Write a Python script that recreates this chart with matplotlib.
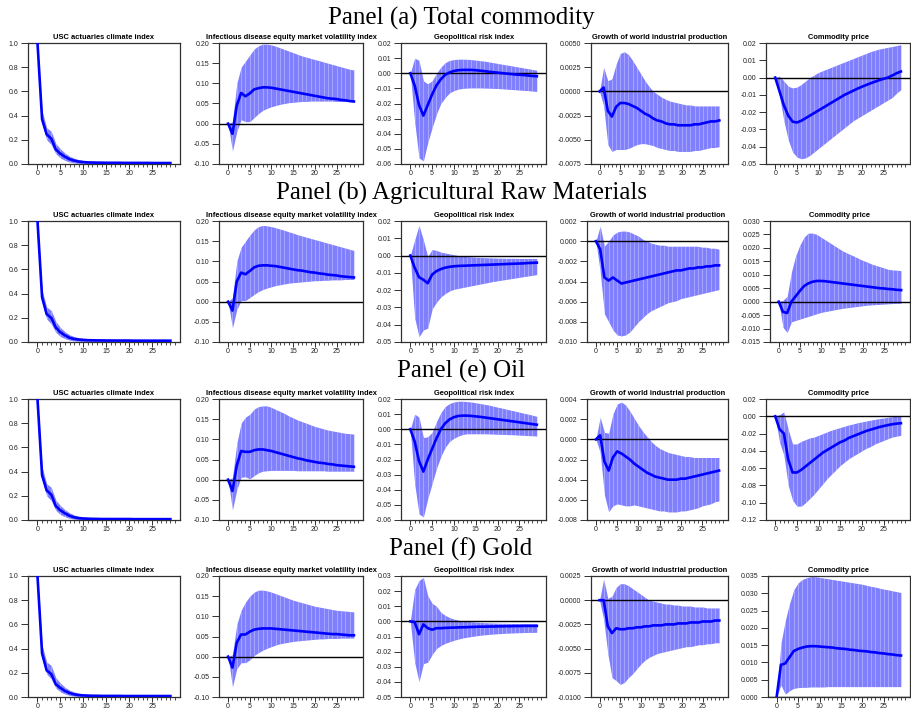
import numpy as np
import matplotlib
matplotlib.use("Agg")
import matplotlib.pyplot as plt
from matplotlib.ticker import FixedLocator, FuncFormatter

horizon = list(range(30))

panel_titles = ["Panel (a) Total commodity", "Panel (b) Agricultural Raw Materials",
                "Panel (e) Oil", "Panel (f) Gold"]
var_titles = ["USC actuaries climate index", "Infectious disease equity market volatility index",
              "Geopolitical risk index", "Growth of world industrial production", "Commodity price"]

# ---------------- Panel (a) Total commodity ----------------
a_clim = [1.0, 0.37, 0.245, 0.21, 0.12, 0.085, 0.06, 0.04, 0.028, 0.02, 0.016, 0.013, 0.012, 0.011, 0.011,
          0.010, 0.010, 0.010, 0.010, 0.009, 0.009, 0.009, 0.009, 0.009, 0.009, 0.008, 0.008, 0.008, 0.008, 0.008]
a_clim_hi = [1.0, 0.44, 0.30, 0.27, 0.17, 0.125, 0.09, 0.065, 0.048, 0.036, 0.029, 0.025, 0.023, 0.022, 0.021,
             0.020, 0.020, 0.019, 0.019, 0.019, 0.018, 0.018, 0.018, 0.018, 0.017, 0.017, 0.017, 0.017, 0.016, 0.016]
a_clim_lo = [1.0, 0.33, 0.20, 0.16, 0.085, 0.05, 0.03, 0.016, 0.009, 0.005, 0.004, 0.003, 0.003, 0.003, 0.003,
             0.002, 0.002, 0.002, 0.002, 0.002, 0.002, 0.002, 0.002, 0.002, 0.002, 0.001, 0.001, 0.001, 0.001, 0.001]
a_emv = [0.0, -0.025, 0.045, 0.076, 0.068, 0.075, 0.085, 0.088, 0.090, 0.090, 0.089, 0.087, 0.085, 0.083, 0.081,
         0.079, 0.077, 0.075, 0.073, 0.071, 0.069, 0.067, 0.065, 0.063, 0.062, 0.061, 0.059, 0.058, 0.056, 0.055]
a_emv_hi = [0.0, 0.005, 0.10, 0.14, 0.155, 0.17, 0.185, 0.193, 0.197, 0.197, 0.195, 0.192, 0.188, 0.184, 0.180,
            0.176, 0.172, 0.168, 0.165, 0.162, 0.159, 0.156, 0.153, 0.150, 0.147, 0.144, 0.141, 0.138, 0.135, 0.133]
a_emv_lo = [0.0, -0.068, -0.02, 0.01, 0.005, 0.005, 0.015, 0.025, 0.033, 0.038, 0.042, 0.045, 0.048, 0.050, 0.052,
            0.053, 0.054, 0.055, 0.055, 0.056, 0.056, 0.056, 0.056, 0.056, 0.056, 0.055, 0.055, 0.055, 0.055, 0.055]
a_gpr = [0.0, -0.008, -0.021, -0.028, -0.021, -0.014, -0.008, -0.004, -0.001, 0.0005, 0.0015, 0.002, 0.0022, 0.0022,
         0.0022, 0.002, 0.0017, 0.0014, 0.001, 0.0007, 0.0004, 0.0001, -0.0002, -0.0005, -0.0008, -0.001, -0.0012,
         -0.0015, -0.0018, -0.002]
a_gpr_hi = [0.0, 0.010, 0.0085, -0.005, -0.007, -0.005, 0.0, 0.004, 0.007, 0.0085, 0.009, 0.0093, 0.0093, 0.0092,
            0.009, 0.0087, 0.0083, 0.008, 0.0075, 0.007, 0.0065, 0.006, 0.0055, 0.005, 0.0045, 0.004, 0.0035, 0.003,
            0.0025, 0.002]
a_gpr_lo = [0.0, -0.032, -0.056, -0.058, -0.046, -0.036, -0.027, -0.020, -0.016, -0.013, -0.0115, -0.0105, -0.010,
            -0.0098, -0.0097, -0.0097, -0.0097, -0.0098, -0.0099, -0.010, -0.0101, -0.0103, -0.0105, -0.0107,
            -0.0109, -0.0111, -0.0113, -0.0115, -0.0118, -0.012]
a_ip = [0.0, 0.0004, -0.002, -0.0026, -0.0016, -0.0012, -0.0012, -0.0013, -0.0015, -0.0017, -0.002, -0.0023,
        -0.0025, -0.0028, -0.003, -0.0031, -0.0033, -0.0034, -0.0034, -0.0035, -0.0035, -0.0035, -0.0035, -0.0034,
        -0.0034, -0.0033, -0.0032, -0.0031, -0.0031, -0.003]
a_ip_hi = [0.0, 0.0025, 0.0011, 0.0013, 0.0028, 0.0039, 0.0041, 0.0038, 0.0032, 0.0025, 0.0018, 0.0011, 0.0005, 0.0,
           -0.0003, -0.0006, -0.0008, -0.001, -0.0011, -0.0012, -0.0013, -0.0014, -0.0014, -0.0015, -0.0015,
           -0.0015, -0.0015, -0.0015, -0.0015, -0.0015]
a_ip_lo = [0.0, -0.0015, -0.0055, -0.0062, -0.006, -0.006, -0.006, -0.0059, -0.0057, -0.0055, -0.0054, -0.0054,
           -0.0055, -0.0056, -0.0058, -0.0059, -0.006, -0.0061, -0.0061, -0.0062, -0.0062, -0.0062, -0.0062,
           -0.0061, -0.0061, -0.006, -0.0059, -0.0058, -0.0058, -0.0057]
a_cp = [0.0, -0.008, -0.016, -0.022, -0.0255, -0.026, -0.025, -0.0235, -0.022, -0.0205, -0.019, -0.0175, -0.016,
        -0.0145, -0.013, -0.0115, -0.010, -0.0088, -0.0076, -0.0064, -0.0053, -0.0043, -0.0033, -0.0024, -0.0015,
        -0.0007, 0.0, 0.0012, 0.0025, 0.0035]
a_cp_hi = [0.0, 0.0008, -0.002, -0.005, -0.006, -0.0055, -0.004, -0.002, 0.0, 0.0015, 0.003, 0.004, 0.005, 0.006,
           0.007, 0.008, 0.009, 0.010, 0.011, 0.012, 0.013, 0.014, 0.015, 0.0158, 0.0165, 0.017, 0.0175, 0.018,
           0.0185, 0.019]
a_cp_lo = [0.0, -0.011, -0.025, -0.036, -0.043, -0.046, -0.047, -0.0465, -0.045, -0.043, -0.041, -0.039, -0.037,
           -0.035, -0.033, -0.031, -0.029, -0.027, -0.025, -0.0235, -0.022, -0.0205, -0.019, -0.0175, -0.016,
           -0.0145, -0.013, -0.0115, -0.009, -0.007]

# ---------------- Panel (b) Agricultural Raw Materials ----------------
b_clim = [1.0, 0.37, 0.23, 0.20, 0.12, 0.08, 0.055, 0.035, 0.025, 0.02, 0.017, 0.015, 0.014, 0.013, 0.013,
          0.012, 0.012, 0.012, 0.012, 0.012, 0.012, 0.011, 0.011, 0.011, 0.011, 0.011, 0.011, 0.011, 0.011, 0.011]
b_clim_hi = [1.0, 0.43, 0.29, 0.26, 0.17, 0.12, 0.085, 0.06, 0.045, 0.036, 0.031, 0.028, 0.026, 0.025, 0.024,
             0.023, 0.023, 0.022, 0.022, 0.022, 0.021, 0.021, 0.021, 0.021, 0.020, 0.020, 0.020, 0.020, 0.020, 0.020]
b_clim_lo = [1.0, 0.33, 0.19, 0.15, 0.08, 0.045, 0.028, 0.015, 0.009, 0.006, 0.005, 0.004, 0.004, 0.004, 0.004,
             0.004, 0.004, 0.004, 0.004, 0.003, 0.003, 0.003, 0.003, 0.003, 0.003, 0.003, 0.003, 0.003, 0.003, 0.003]
b_emv = [0.0, -0.022, 0.05, 0.072, 0.068, 0.076, 0.085, 0.089, 0.09, 0.09, 0.089, 0.088, 0.086, 0.084, 0.082,
         0.08, 0.078, 0.077, 0.075, 0.073, 0.072, 0.07, 0.069, 0.067, 0.066, 0.065, 0.063, 0.062, 0.061, 0.060]
b_emv_hi = [0.0, 0.01, 0.10, 0.135, 0.15, 0.165, 0.178, 0.186, 0.189, 0.188, 0.186, 0.183, 0.18, 0.177, 0.173,
            0.17, 0.166, 0.163, 0.16, 0.157, 0.154, 0.151, 0.148, 0.145, 0.142, 0.139, 0.136, 0.133, 0.13, 0.127]
b_emv_lo = [0.0, -0.065, -0.02, 0.003, 0.003, 0.01, 0.018, 0.025, 0.03, 0.034, 0.037, 0.04, 0.042, 0.044, 0.046,
            0.047, 0.048, 0.049, 0.05, 0.051, 0.052, 0.052, 0.053, 0.053, 0.054, 0.054, 0.054, 0.055, 0.055, 0.055]
b_gpr = [0.0, -0.007, -0.0125, -0.014, -0.016, -0.011, -0.009, -0.0078, -0.007, -0.0065, -0.0062, -0.006, -0.0059,
         -0.0058, -0.0057, -0.0056, -0.0055, -0.0054, -0.0053, -0.0052, -0.0051, -0.005, -0.0049, -0.0048,
         -0.0047, -0.0046, -0.0045, -0.0043, -0.0042, -0.0041]
b_gpr_hi = [0.0, 0.009, 0.0175, 0.009, -0.0005, 0.0035, 0.003, 0.002, 0.0015, 0.001, 0.0005, 0.0, -0.0003, -0.0006,
            -0.0008, -0.001, -0.0011, -0.0012, -0.0013, -0.0014, -0.0015, -0.0015, -0.0016, -0.0016, -0.0016,
            -0.0017, -0.0017, -0.0017, -0.0017, -0.0017]
b_gpr_lo = [0.0, -0.036, -0.047, -0.043, -0.042, -0.031, -0.027, -0.024, -0.022, -0.0205, -0.0195, -0.019, -0.0185,
            -0.018, -0.0175, -0.017, -0.0165, -0.016, -0.0155, -0.015, -0.0146, -0.0142, -0.0138, -0.0134, -0.013,
            -0.0126, -0.0122, -0.0118, -0.0114, -0.011]
b_ip = [0.0, -0.0008, -0.0036, -0.0039, -0.0036, -0.0039, -0.0042, -0.0041, -0.0040, -0.0039, -0.0038, -0.0037,
        -0.0036, -0.0035, -0.0034, -0.0033, -0.0032, -0.0031, -0.0030, -0.0029, -0.0029, -0.0028, -0.0027,
        -0.0027, -0.0026, -0.0026, -0.0025, -0.0025, -0.0024, -0.0024]
b_ip_hi = [0.0, 0.0015, -0.0005, 0.0, 0.0006, 0.0009, 0.001, 0.001, 0.0009, 0.0007, 0.0005, 0.0002, 0.0, -0.0002,
           -0.0003, -0.0004, -0.0004, -0.0005, -0.0005, -0.0005, -0.0005, -0.0005, -0.0005, -0.0005, -0.0005,
           -0.0006, -0.0006, -0.0007, -0.0007, -0.0008]
b_ip_lo = [0.0, -0.003, -0.0072, -0.008, -0.0088, -0.0093, -0.0094, -0.0093, -0.009, -0.0085, -0.008, -0.0076,
           -0.0072, -0.0069, -0.0067, -0.0065, -0.0063, -0.0061, -0.006, -0.0059, -0.0057, -0.0056, -0.0055,
           -0.0054, -0.0053, -0.0052, -0.0051, -0.005, -0.0049, -0.0048]
b_cp = [0.0, -0.0038, -0.0042, 0.0, 0.002, 0.004, 0.0058, 0.0068, 0.0074, 0.0077, 0.0077, 0.0076, 0.0074, 0.0072,
        0.007, 0.0068, 0.0066, 0.0064, 0.0062, 0.006, 0.0058, 0.0056, 0.0054, 0.0052, 0.005, 0.0049, 0.0047,
        0.0046, 0.0044, 0.0043]
b_cp_hi = [0.0, 0.0005, 0.002, 0.011, 0.017, 0.021, 0.024, 0.0255, 0.0255, 0.025, 0.024, 0.023, 0.022, 0.021,
           0.020, 0.019, 0.0182, 0.0175, 0.0168, 0.016, 0.0153, 0.0147, 0.014, 0.0135, 0.013, 0.0125, 0.012,
           0.0118, 0.0117, 0.0115]
b_cp_lo = [0.0, -0.0095, -0.0115, -0.0075, -0.007, -0.0065, -0.006, -0.0055, -0.005, -0.0045, -0.004, -0.0037,
           -0.0034, -0.0031, -0.0028, -0.0025, -0.0023, -0.0021, -0.0019, -0.0017, -0.0015, -0.0013, -0.0012,
           -0.0011, -0.001, -0.0009, -0.0008, -0.0007, -0.0006, -0.0006]

# ---------------- Panel (e) Oil ----------------
e_clim = [1.0, 0.37, 0.245, 0.21, 0.115, 0.08, 0.055, 0.035, 0.022, 0.015, 0.012, 0.010, 0.009, 0.009, 0.008,
          0.008, 0.008, 0.008, 0.008, 0.008, 0.008, 0.007, 0.007, 0.007, 0.007, 0.007, 0.007, 0.007, 0.007, 0.007]
e_clim_hi = [1.0, 0.44, 0.30, 0.27, 0.165, 0.12, 0.085, 0.06, 0.042, 0.032, 0.027, 0.024, 0.022, 0.021, 0.020,
             0.019, 0.019, 0.018, 0.018, 0.018, 0.017, 0.017, 0.017, 0.017, 0.016, 0.016, 0.016, 0.016, 0.016, 0.016]
e_clim_lo = [1.0, 0.33, 0.20, 0.16, 0.08, 0.045, 0.027, 0.014, 0.007, 0.004, 0.003, 0.002, 0.002, 0.002, 0.002,
             0.001, 0.001, 0.001, 0.001, 0.001, 0.001, 0.001, 0.001, 0.001, 0.001, 0.001, 0.001, 0.001, 0.001, 0.001]
e_emv = [0.0, -0.028, 0.035, 0.071, 0.069, 0.069, 0.073, 0.075, 0.075, 0.073, 0.071, 0.068, 0.065, 0.062, 0.059,
         0.056, 0.053, 0.051, 0.048, 0.046, 0.044, 0.042, 0.041, 0.039, 0.038, 0.036, 0.035, 0.034, 0.033, 0.032]
e_emv_hi = [0.0, 0.005, 0.09, 0.14, 0.155, 0.162, 0.175, 0.181, 0.183, 0.183, 0.179, 0.174, 0.169, 0.164, 0.158,
            0.153, 0.148, 0.144, 0.14, 0.136, 0.132, 0.129, 0.126, 0.123, 0.121, 0.119, 0.117, 0.115, 0.114, 0.113]
e_emv_lo = [0.0, -0.075, -0.025, 0.006, 0.007, 0.002, 0.01, 0.017, 0.021, 0.022, 0.023, 0.023, 0.023, 0.023,
            0.023, 0.023, 0.022, 0.022, 0.022, 0.022, 0.022, 0.022, 0.022, 0.021, 0.021, 0.021, 0.021, 0.021,
            0.021, 0.021]
e_gpr = [0.0, -0.008, -0.021, -0.028, -0.02, -0.013, -0.006, 0.0, 0.004, 0.0065, 0.008, 0.0088, 0.009, 0.009,
         0.0088, 0.0085, 0.0082, 0.0078, 0.0074, 0.007, 0.0066, 0.0062, 0.0058, 0.0054, 0.005, 0.0046, 0.0042,
         0.0038, 0.0034, 0.003]
e_gpr_hi = [0.0, 0.010, 0.008, -0.0055, -0.005, -0.002, 0.005, 0.011, 0.015, 0.017, 0.018, 0.0185, 0.0185,
            0.0183, 0.018, 0.0175, 0.017, 0.0165, 0.016, 0.0153, 0.0146, 0.014, 0.0133, 0.0126, 0.012, 0.0113,
            0.0106, 0.01, 0.0093, 0.0085]
e_gpr_lo = [0.0, -0.036, -0.056, -0.058, -0.046, -0.036, -0.026, -0.018, -0.012, -0.008, -0.006, -0.0045,
            -0.0035, -0.003, -0.003, -0.003, -0.003, -0.003, -0.0031, -0.0032, -0.0033, -0.0034, -0.0035, -0.0036,
            -0.0037, -0.0039, -0.004, -0.0042, -0.0043, -0.0045]
e_ip = [0.0, 0.0004, -0.0022, -0.0031, -0.0018, -0.0012, -0.0014, -0.0017, -0.002, -0.0024, -0.0027, -0.003,
        -0.0033, -0.0035, -0.0037, -0.0038, -0.0039, -0.004, -0.004, -0.004, -0.0039, -0.0039, -0.0038, -0.0037,
        -0.0036, -0.0035, -0.0034, -0.0033, -0.0032, -0.0031]
e_ip_hi = [0.0, 0.0022, 0.0007, 0.0006, 0.0025, 0.0035, 0.0037, 0.0034, 0.0028, 0.0021, 0.0014, 0.0008, 0.0003,
           -0.0002, -0.0006, -0.0009, -0.0011, -0.0013, -0.0014, -0.0015, -0.0016, -0.0017, -0.0017, -0.0018,
           -0.0018, -0.0018, -0.0018, -0.0018, -0.0018, -0.0018]
e_ip_lo = [0.0, -0.0013, -0.0055, -0.0072, -0.0066, -0.0064, -0.0065, -0.0066, -0.0066, -0.0065, -0.0066,
           -0.0067, -0.0068, -0.0069, -0.007, -0.0071, -0.0071, -0.0072, -0.0072, -0.0072, -0.0071, -0.0071,
           -0.007, -0.0069, -0.0068, -0.0066, -0.0065, -0.0064, -0.0062, -0.0061]
e_cp = [0.0, -0.015, -0.02, -0.05, -0.065, -0.065, -0.062, -0.058, -0.054, -0.05, -0.046, -0.042, -0.039, -0.036,
        -0.033, -0.03, -0.028, -0.025, -0.023, -0.021, -0.019, -0.017, -0.0155, -0.014, -0.0125, -0.0113, -0.0102,
        -0.0092, -0.0085, -0.008]
e_cp_hi = [0.0, 0.002, 0.005, -0.015, -0.032, -0.032, -0.029, -0.027, -0.025, -0.024, -0.022, -0.02, -0.018,
           -0.016, -0.0145, -0.013, -0.0115, -0.01, -0.0088, -0.0075, -0.0065, -0.0055, -0.0045, -0.0035, -0.0027,
           -0.002, -0.0012, -0.0005, 0.0002, 0.001]
e_cp_lo = [0.0, -0.03, -0.045, -0.08, -0.097, -0.104, -0.104, -0.1, -0.095, -0.09, -0.084, -0.078, -0.072, -0.067,
           -0.062, -0.057, -0.053, -0.049, -0.046, -0.043, -0.04, -0.037, -0.035, -0.032, -0.03, -0.028, -0.026,
           -0.024, -0.023, -0.022]

# ---------------- Panel (f) Gold ----------------
f_clim = [1.0, 0.36, 0.22, 0.19, 0.105, 0.075, 0.05, 0.033, 0.022, 0.016, 0.013, 0.011, 0.010, 0.010, 0.009,
          0.009, 0.009, 0.009, 0.009, 0.008, 0.008, 0.008, 0.008, 0.008, 0.008, 0.008, 0.008, 0.008, 0.008, 0.008]
f_clim_hi = [1.0, 0.43, 0.29, 0.26, 0.16, 0.115, 0.08, 0.057, 0.042, 0.032, 0.027, 0.024, 0.022, 0.021, 0.020,
             0.019, 0.019, 0.018, 0.018, 0.018, 0.017, 0.017, 0.017, 0.017, 0.016, 0.016, 0.016, 0.016, 0.016, 0.016]
f_clim_lo = [1.0, 0.32, 0.19, 0.15, 0.075, 0.042, 0.025, 0.013, 0.007, 0.004, 0.003, 0.002, 0.002, 0.002, 0.002,
             0.002, 0.002, 0.002, 0.002, 0.001, 0.001, 0.001, 0.001, 0.001, 0.001, 0.001, 0.001, 0.001, 0.001, 0.001]
f_emv = [0.0, -0.027, 0.035, 0.055, 0.055, 0.062, 0.067, 0.069, 0.07, 0.07, 0.07, 0.069, 0.068, 0.067, 0.066,
         0.065, 0.064, 0.063, 0.062, 0.061, 0.06, 0.059, 0.058, 0.057, 0.056, 0.056, 0.055, 0.054, 0.053, 0.053]
f_emv_hi = [0.0, 0.005, 0.08, 0.115, 0.135, 0.15, 0.16, 0.165, 0.165, 0.163, 0.16, 0.156, 0.152, 0.148, 0.144,
            0.14, 0.137, 0.134, 0.131, 0.128, 0.125, 0.123, 0.121, 0.119, 0.117, 0.115, 0.114, 0.113, 0.112, 0.111]
f_emv_lo = [0.0, -0.075, -0.03, -0.015, -0.015, -0.008, 0.003, 0.01, 0.016, 0.021, 0.025, 0.029, 0.032, 0.034,
            0.036, 0.038, 0.039, 0.04, 0.041, 0.042, 0.043, 0.044, 0.044, 0.045, 0.045, 0.045, 0.046, 0.046, 0.046,
            0.046]
f_gpr = [0.0, -0.0005, -0.0085, -0.002, -0.0045, -0.0055, -0.0045, -0.0045, -0.0043, -0.0042, -0.0041, -0.004,
         -0.0039, -0.0038, -0.0037, -0.0036, -0.0035, -0.0035, -0.0034, -0.0034, -0.0033, -0.0033, -0.0032,
         -0.0032, -0.0031, -0.0031, -0.003, -0.003, -0.003, -0.003]
f_gpr_hi = [0.0, 0.021, 0.027, 0.029, 0.017, 0.012, 0.01, 0.006, 0.004, 0.0025, 0.0015, 0.0008, 0.0003, 0.0,
            -0.0003, -0.0005, -0.0007, -0.0009, -0.001, -0.0011, -0.0012, -0.0013, -0.0013, -0.0014, -0.0014,
            -0.0015, -0.0015, -0.0015, -0.0015, -0.0015]
f_gpr_lo = [0.0, -0.027, -0.04, -0.028, -0.027, -0.022, -0.018, -0.016, -0.0145, -0.0135, -0.0125, -0.0117,
            -0.011, -0.0105, -0.01, -0.0096, -0.0092, -0.0089, -0.0086, -0.0084, -0.0082, -0.008, -0.0078,
            -0.0077, -0.0076, -0.0075, -0.0074, -0.0073, -0.0073, -0.0072]
f_ip = [0.0, 0.0, -0.0027, -0.0034, -0.0029, -0.003, -0.003, -0.0029, -0.0029, -0.0028, -0.0028, -0.0027,
        -0.0027, -0.0026, -0.0026, -0.0026, -0.0025, -0.0025, -0.0025, -0.0024, -0.0024, -0.0024, -0.0023,
        -0.0023, -0.0023, -0.0022, -0.0022, -0.0022, -0.0021, -0.0021]
f_ip_hi = [0.0, 0.0022, 0.0002, 0.0004, 0.0013, 0.0017, 0.0017, 0.0015, 0.0012, 0.0009, 0.0006, 0.0003, 0.0,
           -0.0001, -0.0002, -0.0003, -0.0004, -0.0004, -0.0005, -0.0005, -0.0006, -0.0006, -0.0006, -0.0007,
           -0.0007, -0.0007, -0.0008, -0.0008, -0.0008, -0.0008]
f_ip_lo = [0.0, -0.002, -0.0055, -0.008, -0.0083, -0.0087, -0.0085, -0.008, -0.0076, -0.0071, -0.0066, -0.0062,
           -0.0059, -0.0057, -0.0055, -0.0054, -0.0053, -0.0052, -0.0051, -0.005, -0.0049, -0.0048, -0.0048,
           -0.0047, -0.0046, -0.0046, -0.0045, -0.0045, -0.0044, -0.0044]
f_cp = [0.0, 0.0093, 0.0097, 0.0115, 0.0133, 0.0139, 0.0143, 0.0146, 0.0147, 0.0147, 0.0146, 0.0145, 0.0144,
        0.0143, 0.0141, 0.014, 0.0139, 0.0137, 0.0136, 0.0134, 0.0133, 0.0132, 0.013, 0.0129, 0.0127, 0.0126,
        0.0124, 0.0123, 0.0121, 0.012]
f_cp_hi = [0.0, 0.0155, 0.022, 0.027, 0.031, 0.033, 0.034, 0.0345, 0.0348, 0.0348, 0.0346, 0.0344, 0.0342, 0.034,
           0.0338, 0.0336, 0.0334, 0.0332, 0.033, 0.0328, 0.0326, 0.0323, 0.032, 0.0318, 0.0315, 0.0312, 0.031,
           0.0307, 0.0305, 0.0302]
f_cp_lo = [0.0, 0.0035, 0.0008, 0.0018, 0.0025, 0.0027, 0.0028, 0.0028, 0.0029, 0.0029, 0.0029, 0.0029, 0.003,
           0.003, 0.003, 0.003, 0.003, 0.003, 0.003, 0.003, 0.003, 0.003, 0.003, 0.003, 0.003, 0.003, 0.003,
           0.003, 0.003, 0.003]

rows = [
    [(a_clim, a_clim_lo, a_clim_hi), (a_emv, a_emv_lo, a_emv_hi), (a_gpr, a_gpr_lo, a_gpr_hi),
     (a_ip, a_ip_lo, a_ip_hi), (a_cp, a_cp_lo, a_cp_hi)],
    [(b_clim, b_clim_lo, b_clim_hi), (b_emv, b_emv_lo, b_emv_hi), (b_gpr, b_gpr_lo, b_gpr_hi),
     (b_ip, b_ip_lo, b_ip_hi), (b_cp, b_cp_lo, b_cp_hi)],
    [(e_clim, e_clim_lo, e_clim_hi), (e_emv, e_emv_lo, e_emv_hi), (e_gpr, e_gpr_lo, e_gpr_hi),
     (e_ip, e_ip_lo, e_ip_hi), (e_cp, e_cp_lo, e_cp_hi)],
    [(f_clim, f_clim_lo, f_clim_hi), (f_emv, f_emv_lo, f_emv_hi), (f_gpr, f_gpr_lo, f_gpr_hi),
     (f_ip, f_ip_lo, f_ip_hi), (f_cp, f_cp_lo, f_cp_hi)],
]

# axis scales: (ymin, ymax, step, decimals)
yscales = [
    [(0.0, 1.0, 0.2, 1), (-0.10, 0.20, 0.05, 2), (-0.06, 0.02, 0.01, 2), (-0.0075, 0.005, 0.0025, 4), (-0.05, 0.02, 0.01, 2)],
    [(0.0, 1.0, 0.2, 1), (-0.10, 0.20, 0.05, 2), (-0.05, 0.02, 0.01, 2), (-0.010, 0.002, 0.002, 3), (-0.015, 0.030, 0.005, 3)],
    [(0.0, 1.0, 0.2, 1), (-0.10, 0.20, 0.05, 2), (-0.06, 0.02, 0.01, 2), (-0.008, 0.004, 0.002, 3), (-0.12, 0.02, 0.02, 2)],
    [(0.0, 1.0, 0.2, 1), (-0.10, 0.20, 0.05, 2), (-0.05, 0.03, 0.01, 2), (-0.0100, 0.0025, 0.0025, 4), (0.0, 0.035, 0.005, 3)],
]

# ---------------- layout ----------------
W, H = 912, 712
fig = plt.figure(figsize=(W / 100, H / 100), dpi=100)
plt.rcParams['font.family'] = ['Liberation Sans', 'DejaVu Sans']

row_tops = [43, 221, 399, 576]
ax_h = 121
col_right = [180, 363, 546, 728, 910]
slot_left = [7, 192, 374, 556, 739]
panel_y = [18, 193, 371, 549]

LINE_C = '#0000ff'
BAND_C = '#8080ff'
SPINE_C = '#303030'

axes = []
for r in range(4):
    fig.text(461 / W, 1 - panel_y[r] / H, panel_titles[r], ha='center', va='center',
             fontsize=18, family=['Liberation Serif', 'DejaVu Serif'])
    for c in range(5):
        x0 = slot_left[c] + 25
        ax = fig.add_axes([x0 / W, 1 - (row_tops[r] + ax_h) / H, (col_right[c] - x0) / W, ax_h / H])
        irf, lo, hi = rows[r][c]
        ax.fill_between(horizon, lo, hi, color=BAND_C, lw=0, zorder=1)
        ax.vlines(horizon, lo, hi, color='white', lw=0.6, alpha=0.35, zorder=2)
        if c > 0:
            ax.axhline(0, color='black', lw=1.0, zorder=3)
        ax.plot(horizon, irf, color=LINE_C, lw=1.9, zorder=4, solid_joinstyle='round')
        ymin, ymax, step, dec = yscales[r][c]
        n = int(round((ymax - ymin) / step))
        ticks = [round(ymin + i * step, 6) for i in range(n + 1)]
        ax.set_ylim(ymin, ymax)
        ax.yaxis.set_major_locator(FixedLocator(ticks))
        ax.yaxis.set_major_formatter(FuncFormatter(lambda v, p, d=dec: f"{round(v, 6) + 0.0:.{d}f}"))
        ax.set_xlim(-2.1, 31.1)
        ax.xaxis.set_major_locator(FixedLocator([0, 5, 10, 15, 20, 25]))
        ax.xaxis.set_minor_locator(FixedLocator(list(range(0, 31))))
        ax.tick_params(axis='both', which='major', labelsize=5, width=0.7,
                       color=SPINE_C, labelcolor='#222222')
        ax.tick_params(axis='x', which='major', length=3.5, pad=1)
        ax.tick_params(axis='x', which='minor', length=2, width=0.6, color=SPINE_C)
        ax.tick_params(axis='y', which='major', length=5, pad=2)
        for s in ax.spines.values():
            s.set_color(SPINE_C)
            s.set_linewidth(0.9)
        ax.set_title(var_titles[c], fontsize=5.4, fontweight='bold', pad=3)
        axes.append((ax, r, c))

fig.canvas.draw()
renderer = fig.canvas.get_renderer()
for ax, r, c in axes:
    widths = [t.get_window_extent(renderer).width for t in ax.get_yticklabels() if t.get_text()]
    w = max(widths) if widths else 15
    left = slot_left[c] + w + 11
    ax.set_position([left / W, 1 - (row_tops[r] + ax_h) / H, (col_right[c] - left) / W, ax_h / H])

fig.savefig('out.png', dpi=100)
